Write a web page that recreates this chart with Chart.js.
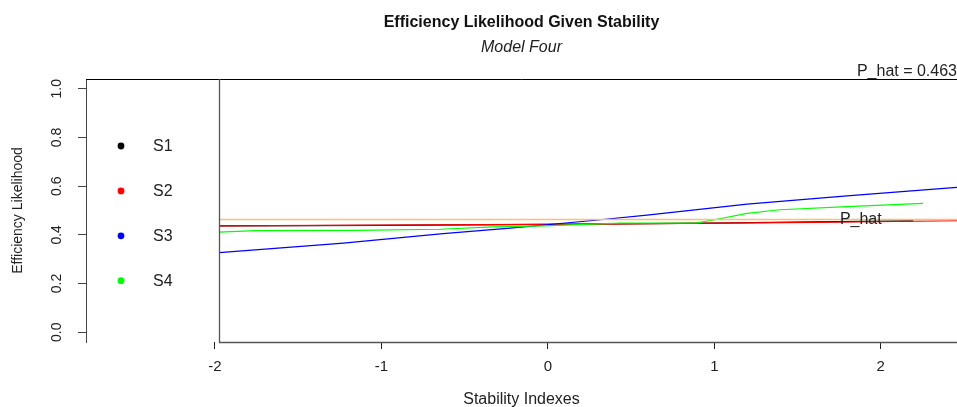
<!DOCTYPE html>
<html>
<head>
<meta charset="utf-8">
<title>Efficiency Likelihood Given Stability</title>
<script src="https://cdn.jsdelivr.net/npm/chart.js@4.4.1/dist/chart.umd.min.js"></script>
<style>
  html, body { margin: 0; padding: 0; background: #fff; }
  canvas { display: block; }
</style>
</head>
<body>
<canvas id="stabilityChart" width="957" height="407"></canvas>
<script>
// Data

const xTicks = [-2, -1, 0, 1, 2];
const yTicks = [0, 0.2, 0.4, 0.6, 0.8, 1.0];
const seriesNames = ['S1', 'S2', 'S3', 'S4'];
const seriesColors = ['#000000', '#ff0000', '#0000ff', '#00ff00'];

const s1X = [-1.974, -1.0, 0.0, 1.0, 1.6, 2.194];
const s1Y = [0.437, 0.439, 0.443, 0.448, 0.453, 0.457];

const s2X = [-1.974, -1.0, 0.254, 1.0, 1.593, 2.458];
const s2Y = [0.437, 0.440, 0.444, 0.448, 0.451, 0.458];

const s3X = [-1.974, -1.229, -0.629, -0.226, 0.254, 0.596, 1.197, 1.797, 2.398, 2.458];
const s3Y = [0.327, 0.366, 0.405, 0.428, 0.458, 0.481, 0.526, 0.560, 0.592, 0.595];

const s4X = [-1.974, -1.758, -1.157, -0.647, -0.329, -0.028, 0.435, 0.897, 0.993, 1.197, 1.395, 1.797, 2.254];
const s4Y = [0.411, 0.417, 0.418, 0.423, 0.433, 0.437, 0.448, 0.449, 0.461, 0.488, 0.503, 0.516, 0.529];

const pHat = 0.463;
const pHatLabelX = 1.88;

// axis limits (left part of the x range holds the legend panel)
const xMin = -2.775;
const xMax = 2.458;
const panelStart = -1.974;
const yMin = -0.04;
const yMax = 1.04;

const FONT = "'Liberation Sans', Arial, Helvetica, sans-serif";

const toPoints = (xs, ys) => xs.map((x, i) => ({ x: x, y: ys[i] }));

const datasets = [
    { label: seriesNames[0], data: toPoints(s1X, s1Y), borderColor: seriesColors[0], borderWidth: 1.2, order: 5 },
    { label: seriesNames[1], data: toPoints(s2X, s2Y), borderColor: seriesColors[1], borderWidth: 1.2, order: 4 },
    { label: seriesNames[2], data: toPoints(s3X, s3Y), borderColor: seriesColors[2], borderWidth: 1.2, order: 3 },
    { label: seriesNames[3], data: toPoints(s4X, s4Y), borderColor: seriesColors[3], borderWidth: 1.2, order: 2 },
    { label: 'P_hat', data: toPoints([panelStart, xMax], [pHat, pHat]), borderColor: 'rgb(252,192,115)', borderWidth: 1.5, order: 1 },
].map(ds => Object.assign(ds, {
    pointRadius: 0,
    fill: false,
    tension: 0,
}));

// frame, rotated y labels, legend panel and text labels
const rPlotExtras = {
    id: 'rPlotExtras',
    afterDatasetsDraw(chart) {
        const { ctx, chartArea, scales } = chart;
        const px = scales.x.getPixelForValue(panelStart);
        ctx.save();
        ctx.lineWidth = 1;
        ctx.strokeStyle = '#000';
        ctx.beginPath();
        ctx.moveTo(chartArea.left, chartArea.top + 0.5);
        ctx.lineTo(chartArea.right, chartArea.top + 0.5);
        ctx.stroke();
        ctx.strokeStyle = '#555';
        ctx.lineWidth = 1.3;
        ctx.beginPath();
        ctx.moveTo(Math.round(px) + 0.5, chartArea.top);
        ctx.lineTo(Math.round(px) + 0.5, chartArea.bottom + 0.5);
        ctx.lineTo(chartArea.right, chartArea.bottom + 0.5);
        ctx.stroke();

        // P_hat label on the line
        ctx.fillStyle = '#222';
        ctx.font = '16px ' + FONT;
        ctx.textAlign = 'center';
        ctx.textBaseline = 'middle';
        ctx.fillText('P_hat', scales.x.getPixelForValue(pHatLabelX), scales.y.getPixelForValue(pHat));
        ctx.restore();
    },
    afterDraw(chart) {
        const { ctx, chartArea, scales } = chart;
        ctx.save();
        ctx.fillStyle = '#222';
        ctx.font = '14px ' + FONT;

        // rotated y tick labels
        ctx.textAlign = 'center';
        ctx.textBaseline = 'middle';
        scales.y.ticks.forEach(t => {
            ctx.save();
            ctx.translate(57, scales.y.getPixelForValue(t.value));
            ctx.rotate(-Math.PI / 2);
            ctx.fillText(t.value.toFixed(1), 0, 0);
            ctx.restore();
        });

        // legend in the left panel
        ctx.font = '16px ' + FONT;
        seriesNames.forEach((name, i) => {
            const ly = chartArea.top + 67 + i * 44.9;
            ctx.beginPath();
            ctx.fillStyle = seriesColors[i];
            ctx.arc(chartArea.left + 35, ly, 3.4, 0, Math.PI * 2);
            ctx.fill();
            ctx.fillStyle = '#222';
            ctx.textAlign = 'left';
            ctx.fillText(name, chartArea.left + 67, ly + 1);
        });

        // P_hat value at the top right
        ctx.textAlign = 'right';
        ctx.textBaseline = 'alphabetic';
        ctx.fillText('P_hat = ' + pHat.toFixed(3), chartArea.right, chartArea.top - 3);
        ctx.restore();
    },
};

const chartOptions = {
    responsive: false,
    animation: false,
    layout: { padding: 0 },
    plugins: {
        legend: { display: false },
        tooltip: { enabled: false },
        title: {
            display: true,
            fullSize: false,
            text: 'Efficiency Likelihood Given Stability',
            color: '#111',
            font: { family: FONT, size: 16, weight: 'bold' },
            padding: { top: 13, bottom: 6 },
        },
        subtitle: {
            display: true,
            fullSize: false,
            text: 'Model Four',
            color: '#222',
            font: { family: FONT, size: 16, style: 'italic' },
            padding: { top: 0, bottom: 21.6 },
        },
    },
    scales: {
        x: {
            type: 'linear',
            min: xMin,
            max: xMax,
            afterBuildTicks: (scale) => { scale.ticks = xTicks.map(v => ({ value: v })); },
            afterFit: (scale) => { scale.height = 65; },
            border: { display: false },
            grid: { drawOnChartArea: false, drawTicks: true, tickLength: 7, color: '#222' },
            ticks: {
                color: '#222',
                padding: 9,
                maxRotation: 0,
                font: { family: FONT, size: 15 },
                callback: (v) => String(v),
            },
            title: {
                display: true,
                text: 'Stability Indexes',
                color: '#222',
                font: { family: FONT, size: 16, lineHeight: 1 },
                padding: { top: 0, bottom: -1 },
            },
        },
        y: {
            type: 'linear',
            min: yMin,
            max: yMax,
            afterBuildTicks: (scale) => { scale.ticks = yTicks.map(v => ({ value: v })); },
            afterFit: (scale) => { scale.width = 86; },
            border: { display: true, color: '#444', width: 1 },
            grid: { drawOnChartArea: false, drawTicks: true, tickLength: 8, color: '#444' },
            ticks: { display: false },
            title: {
                display: true,
                text: 'Efficiency Likelihood',
                color: '#222',
                font: { family: FONT, size: 14, lineHeight: 1 },
                padding: { top: 11, bottom: 0 },
            },
        },
    },
};

new Chart(document.getElementById('stabilityChart'), {
    type: 'line',
    data: { datasets: datasets },
    options: chartOptions,
    plugins: [rPlotExtras],
});
</script>
</body>
</html>
